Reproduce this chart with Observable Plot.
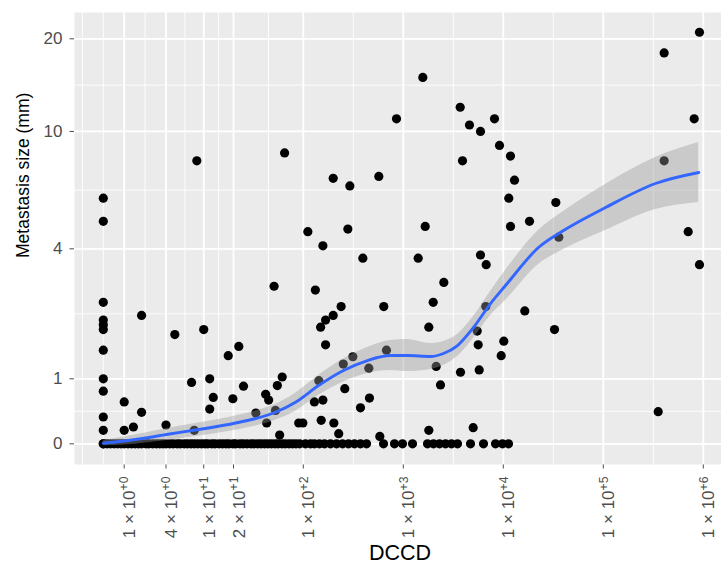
<!DOCTYPE html>
<html><head><meta charset="utf-8">
<script src="https://cdn.jsdelivr.net/npm/d3@7"></script>
<script src="https://cdn.jsdelivr.net/npm/@observablehq/plot@0.6"></script>
<style>
body{margin:0;background:#fff}
svg{font-family:"Liberation Sans",Arial,Helvetica,sans-serif}
</style>
</head><body><div id="chart"></div>
<script>
// ---- data (DCCD, metastasis size in mm) ----
const zeroColumnSize = [6, 5, 2.5, 2.1, 2, 1.9, 1.5, 1, 0.8, 0.4, 0.2, 0, 0];
const pointDCCD = [8.5, 65, 2, 5, 10, 51, 1, 1, 1.5, 2, 4, 7.5, 11.5, 12.5, 11.5, 17.7, 22.6, 25.2, 19.7, 42, 45, 55, 61.5, 33.5, 43, 52.7, 8, 58, 90,
  1567, 3707, 855, 4592, 5916, 8166, 9162, 11800, 3908, 199, 292, 569, 111, 279, 1656, 12942, 11350, 11800, 157, 394, 1409, 5916, 6745, 2541, 132, 239, 199, 167, 149, 1991, 638, 1799, 167, 313, 251, 679, 452, 143, 260, 129, 157, 459, 373, 99, 151, 202, 226, 582, 2133, 2355, 3733, 6683, 5483, 5610, 5741, 10116, 9528, 1799, 5000,
  916000, 406000, 811000, 406000, 18281, 33500, 706000, 916000, 35900, 16400, 32500, 354000];
const pointSize = [8, 8.5, 2.2, 1.8, 1.9, 2.9, 0.63, 0.2, 0.25, 0.47, 0.28, 0.94, 1, 0.7, 0.52, 1.4, 1.57, 0.88, 0.68, 0.75, 0.66, 0.89, 1.03, 0.46, 0.31, 0.5, 0.2, 0.13, 0.31,
  15, 12, 11, 10.5, 10, 11, 9, 8.3, 8, 7, 6.6, 7.1, 4.6, 4.7, 4.8, 6.9, 6, 4.8, 4.1, 3.7, 3.7, 3.8, 3.5, 3, 2.8, 2.4, 2.2, 2.1, 1.95, 2.5, 2.4, 1.95, 1.6, 1.38, 1.25, 1.5, 1.18, 0.97, 0.84, 0.63, 0.66, 0.69, 0.54, 0.31, 0.35, 0.31, 0.15, 0.11, 1.21, 0.9, 1.11, 2.4, 1.87, 1.6, 1.15, 1.67, 1.4, 0.2, 0.24,
  21, 18, 11, 8, 5, 5.8, 4.6, 3.5, 4.4, 2.3, 1.9, 0.48];
const zeroRowDCCD = [0.17, 0.33, 0.5, 0.67, 0.84, 1, 1.2, 1.4, 1.6, 1.8, 2, 2.3, 2.5, 2.8, 3.1, 3.4, 3.7, 4, 4.4, 4.8, 5.3, 5.7, 6.3, 6.8, 7.4, 8, 8.7, 9.5, 10.3, 11, 12.1, 13, 14.3, 15.5, 16.8, 18, 19.8, 21, 23.2, 25, 27.3, 30, 32.1, 35, 37.8, 41, 44.4, 48, 52.1, 56, 61.2, 66, 71.9, 78, 84.5, 92, 105, 118, 129, 145, 163, 187, 215, 247, 283, 325, 373, 429, 634, 817, 982, 1236, 1746, 2005, 2301, 2642, 3034, 3483, 4699, 6339, 8356, 9817, 11272];

// loess smooth
const smoothDCCD = [0, 1, 2.26, 4.05, 8.24, 17.8, 33.3, 52.7, 83.6, 142, 252, 438, 745, 1102, 1871, 2523, 3483, 5035, 7447, 10520, 22490, 40000, 105200, 332700, 900000];
const smoothFit  = [0.009, 0.041, 0.086, 0.138, 0.205, 0.287, 0.377, 0.472, 0.626, 0.890, 1.140, 1.313, 1.402, 1.402, 1.385, 1.439, 1.587, 1.943, 2.471, 2.918, 4.043, 4.644, 5.577, 6.724, 7.318];
const smoothLow  = [-0.028, -0.018, 0.012, 0.049, 0.108, 0.183, 0.264, 0.351, 0.488, 0.730, 0.947, 1.089, 1.140, 1.122, 1.157, 1.225, 1.385, 1.722, 2.198, 2.543, 3.506, 3.977, 4.644, 5.490, 5.800];
const smoothHigh = [0.046, 0.101, 0.160, 0.227, 0.302, 0.392, 0.490, 0.595, 0.767, 1.055, 1.340, 1.550, 1.683, 1.702, 1.625, 1.664, 1.801, 2.176, 2.764, 3.330, 4.644, 5.404, 6.673, 8.208, 9.198];

// axis breaks
const xBreaks = [1, 4, 10, 20, 100, 1e3, 1e4, 1e5, 1e6];
const xBreakLabels = ["1 \u00D7 10^+0", "4 \u00D7 10^+0", "1 \u00D7 10^+1", "2 \u00D7 10^+1", "1 \u00D7 10^+2", "1 \u00D7 10^+3", "1 \u00D7 10^+4", "1 \u00D7 10^+5", "1 \u00D7 10^+6"];
const yBreaks = [0, 1, 4, 10, 20];
const yBreakLabels = ["0", "1", "4", "10", "20"];

// pseudo-log transforms (sigma = 1)
const tx = v => Math.asinh(v / 2) / Math.LN10;
const ty = v => Math.asinh(v / 2);

const xDomain = [-0.288, 6.182];
const yDomain = [-0.153, 3.193];

function minorBreaks(b, lim) {
  const bd = b[1] - b[0];
  const bb = b.slice();
  if (lim[0] < bb[0]) bb.unshift(bb[0] - bd);
  if (lim[1] > bb[bb.length - 1]) bb.push(bb[bb.length - 1] + bd);
  const out = [];
  for (let i = 0; i < bb.length - 1; i++) { out.push(bb[i], (bb[i] + bb[i + 1]) / 2); }
  out.push(bb[bb.length - 1]);
  return out.filter(v => v >= lim[0] && v <= lim[1]);
}
const xMajor = xBreaks.map(tx), yMajor = yBreaks.map(ty);
const xMinor = minorBreaks(xMajor, xDomain), yMinor = minorBreaks(yMajor, yDomain);

const points = [
  ...zeroColumnSize.map(s => ({dccd: 0, size: s})),
  ...pointDCCD.map((d, i) => ({dccd: d, size: pointSize[i]})),
  ...zeroRowDCCD.map(d => ({dccd: d, size: 0}))
];
const smooth = smoothDCCD.map((d, i) => ({dccd: d, fit: smoothFit[i], lo: smoothLow[i], hi: smoothHigh[i]}));

const yLabelOf = v => { const i = yMajor.findIndex(m => Math.abs(m - v) < 1e-6); return i >= 0 ? yBreakLabels[i] : ""; };

const chart = Plot.plot({
  width: 721, height: 568,
  marginLeft: 74, marginRight: 0, marginTop: 12, marginBottom: 104,
  style: {fontFamily: "Liberation Sans, Arial, sans-serif", fontSize: "17px", color: "#4D4D4D", background: "white", overflow: "visible"},
  x: {type: "linear", domain: xDomain, ticks: xMajor, tickFormat: () => "", tickSize: 4.5, label: null},
  y: {type: "linear", domain: yDomain, ticks: yMajor, tickFormat: yLabelOf, tickSize: 4.5, tickPadding: 7.5, label: null},
  marks: [
    Plot.frame({fill: "#EBEBEB", stroke: "none"}),
    Plot.ruleX(xMinor, {x: d => d, stroke: "white", strokeWidth: 0.9}),
    Plot.ruleY(yMinor, {y: d => d, stroke: "white", strokeWidth: 0.9}),
    Plot.ruleX(xMajor, {x: d => d, stroke: "white", strokeWidth: 1.8}),
    Plot.ruleY(yMajor, {y: d => d, stroke: "white", strokeWidth: 1.8}),
    Plot.dot(points, {x: d => tx(d.dccd), y: d => ty(d.size), r: 4.6, fill: "black", stroke: "none"}),
    Plot.areaY(smooth, {x: d => tx(d.dccd), y1: d => ty(d.lo), y2: d => ty(d.hi), fill: "#999999", fillOpacity: 0.4, curve: "monotone-x"}),
    Plot.line(smooth, {x: d => tx(d.dccd), y: d => ty(d.fit), stroke: "#3366FF", strokeWidth: 2.9, curve: "monotone-x"}),
    Plot.text(xBreaks, {x: d => tx(d), text: (d, i) => xBreakLabels[i], frameAnchor: "bottom", rotate: -90, textAnchor: "end", dy: 12, dx: 11, fontSize: 17, fill: "#4D4D4D"}),
    Plot.text(["DCCD"], {frameAnchor: "bottom", text: d => d, dy: 95, dx: 2, fontSize: 21.5, fill: "black"}),
    Plot.text(["Metastasis size (mm)"], {frameAnchor: "left", text: d => d, rotate: -90, dx: -51, dy: 19.5, fontSize: 17.5, fill: "black"})
  ]
});

// superscript exponents in the x tick labels
const ns = "http://www.w3.org/2000/svg";
chart.querySelectorAll("text").forEach(t => {
  const s = t.textContent;
  if (!s.includes("^")) return;
  const [base, exp] = s.split("^");
  t.textContent = "";
  const a = document.createElementNS(ns, "tspan"); a.textContent = base;
  const b = document.createElementNS(ns, "tspan"); b.textContent = exp;
  b.setAttribute("dy", "-0.55em"); b.setAttribute("font-size", "0.72em");
  t.append(a, b);
});
document.getElementById("chart").append(chart);
</script>
</body></html>
